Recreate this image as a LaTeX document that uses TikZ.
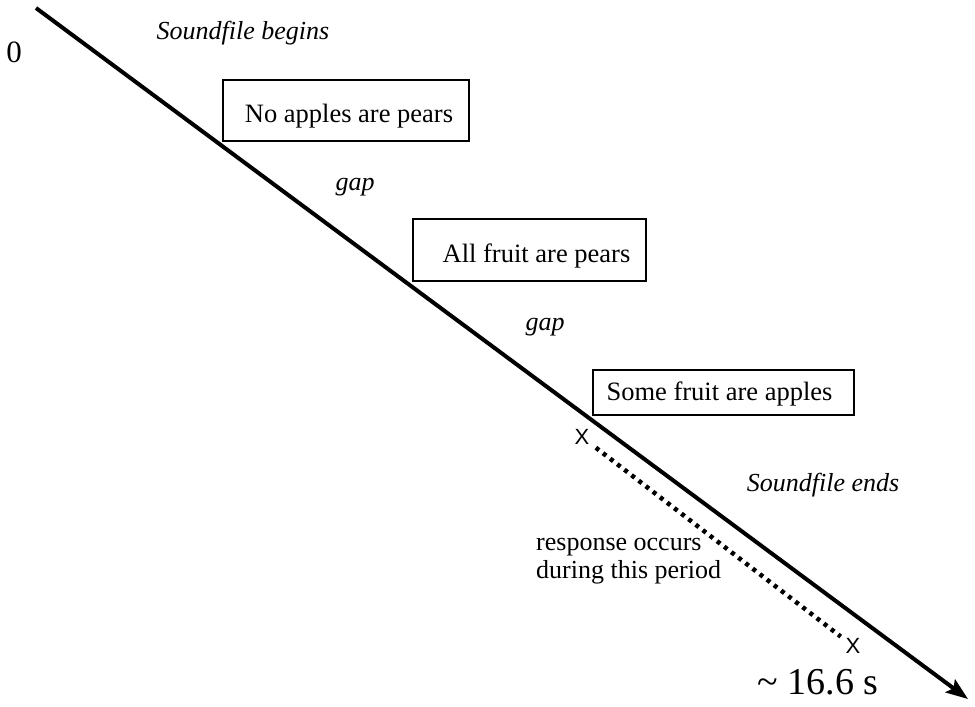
\documentclass[tikz,border=0pt]{standalone}
\usepackage{fontspec}
\setmainfont{Liberation Serif}
\newfontfamily\xfont{Liberation Sans}
\usetikzlibrary{arrows.meta}
\newcommand{\lowered}[2]{\raisebox{#1}[\height][\depth]{#2}}
\begin{document}
\begin{tikzpicture}[x=1pt,y=-1pt,
  txt/.style={inner sep=0pt,font=\fontsize{26}{28}\selectfont},
  itxt/.style={inner sep=0pt,font=\fontsize{26}{28}\selectfont\itshape},
  stmt/.style={draw,line width=1.5pt,inner sep=0pt,font=\fontsize{26.5}{28}\selectfont},
  xmark/.style={inner sep=0pt,font=\xfont\fontsize{22}{24}\selectfont},
  axis/.style={line width=4pt,-{Stealth[length=22pt,width=16pt,inset=4pt]}},
  period/.style={line width=4.5pt,dash pattern=on 4pt off 5pt}]
\useasboundingbox (0,0) rectangle (975,707);
\coordinate (start) at (36,8);
\coordinate (end) at (968,699);
\draw[axis] (start) -- (end);
\node[txt] (zero) at (14,52) {\fontsize{31}{32}\selectfont 0};
\node[itxt] (begins) at (243,33) {Soundfile begins};
\node[stmt,minimum width=246pt,minimum height=61pt] (s1) at (346,110.5) {\hspace*{6pt}\lowered{-6pt}{No apples are pears}};
\node[itxt] (gap1) at (355,187) {gap};
\node[stmt,minimum width=233pt,minimum height=62pt] (s2) at (529.5,250) {\hspace*{14pt}\lowered{-6pt}{All fruit are pears}};
\node[itxt] (gap2) at (545,327) {gap};
\node[stmt,minimum width=261pt,minimum height=45pt] (s3) at (723.5,392.5) {\lowered{-1pt}{Some fruit are apples}\hspace*{8pt}};
\node[xmark] (x1) at (582,437) {X};
\node[xmark] (x2) at (853,646) {X};
\draw[period,shorten <=8pt,shorten >=6pt] (x1) -- (x2);
\node[itxt] (ends) at (823,485) {Soundfile ends};
\node[txt,align=left,anchor=west] (resp) at (536,561) {response occurs\\during this period};
\node[txt] (time) at (818,682) {\fontsize{38}{40}\selectfont\textasciitilde\ 16.6 s};
\end{tikzpicture}
\end{document}
